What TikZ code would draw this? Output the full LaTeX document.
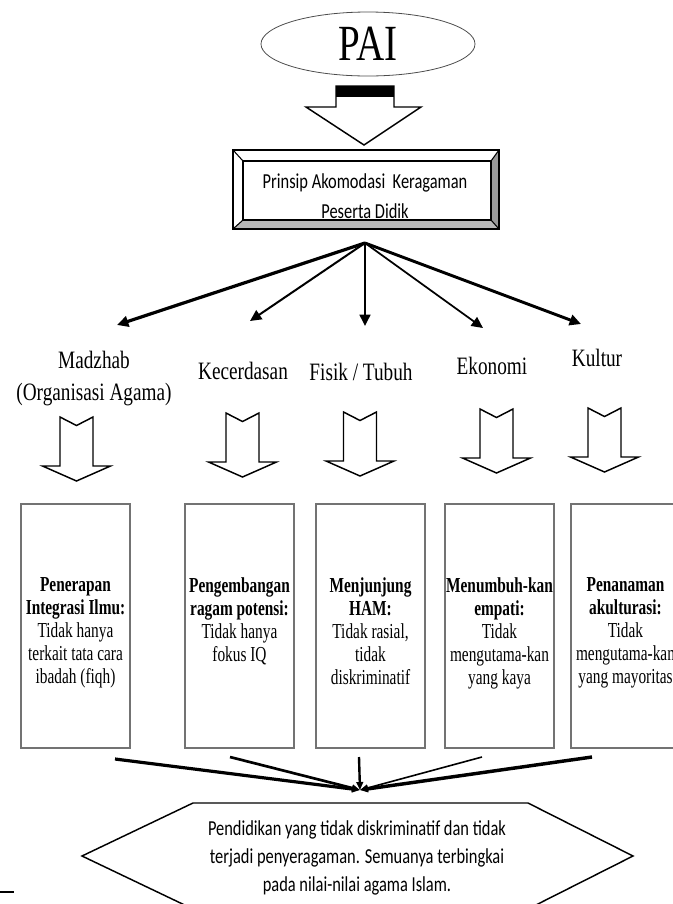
\documentclass[tikz,border=0pt]{standalone}
\usepackage{fontspec}
\setmainfont{Liberation Serif}[FakeStretch=0.77]
\newfontfamily\narrowserif{Liberation Serif}[FakeStretch=0.72]
\newfontfamily\calibri{Carlito}[FakeStretch=0.77]
\usetikzlibrary{arrows.meta,shapes.geometric}

\tikzset{
  fanarrow/.style={-{Triangle[length=8.5pt,width=8pt]}},
  meetarrow/.style={-{Triangle[length=6pt,width=5pt]}},
  catlabel/.style={inner sep=0pt,font=\fontsize{18.75}{24}\selectfont,align=center},
  catbox/.style={draw=black!55,line width=0.8pt,minimum width=81.75pt,minimum height=183pt,inner sep=0pt},
  boxtext/.style={inner sep=0pt,anchor=north,align=center,font=\narrowserif\fontsize{16}{17.25}\selectfont},
  hollowarrow/.pic={
    \draw[line width=1.1pt,fill=white] (-16.5,0) -- (0,-8.5) -- (16.5,0) -- (16.5,-49) -- (34,-49) -- (0,-64) -- (-34,-49) -- (-16.5,-49) -- cycle;
  }
}

\begin{document}
\begin{tikzpicture}[x=0.75pt,y=0.75pt,yscale=-1,xscale=1]
\useasboundingbox (0,0) rectangle (673,904);

%Ellipse
\node[draw=black!70,line width=0.6pt,ellipse,minimum width=160.5pt,minimum height=48pt,inner sep=0pt,font=\fontsize{38}{38}\selectfont] (pai) at (368,44) {PAI};

%Block arrow
\draw[line width=1.1pt,fill=white] (336,86) -- (394,86) -- (394,107) -- (421,107) -- (364,145) -- (306,107) -- (336,107) -- cycle;
\fill (336,86) rectangle (394,97);

%Bevel box
\fill[black!40] (499,150) -- (499,229) -- (491,220) -- (491,161) -- cycle;
\fill[black!28] (233,229) -- (499,229) -- (491,220) -- (243,220) -- cycle;
\draw[line width=1.1pt] (233,150) rectangle (499,229);
\draw[line width=1.1pt] (243,161) rectangle (491,220);
\draw[line width=0.8pt] (233,150) -- (243,161) (499,150) -- (491,161) (233,229) -- (243,220) (499,229) -- (491,220);
% Text Node
\node[inner sep=0pt,anchor=north,align=center,font=\calibri\fontsize{16}{22.5}\selectfont] (prinsip) at (365,173) {Prinsip Akomodasi~ Keragaman\\Peserta Didik};

%Fan arrows
\coordinate (fan) at (365,243);
\coordinate (tip1) at (117,325);
\coordinate (tip2) at (250,321);
\coordinate (tip3) at (365,326);
\coordinate (tip4) at (483,328);
\coordinate (tip5) at (581,324);
\draw[fanarrow,line width=2.4pt] (fan) -- (tip1);
\draw[fanarrow,line width=1.5pt] (fan) -- (tip2);
\draw[fanarrow,line width=1.8pt] (fan) -- (tip3);
\draw[fanarrow,line width=1.3pt] (fan) -- (tip4);
\draw[fanarrow,line width=2.2pt] (fan) -- (tip5);

% Text Node
\node[catlabel,anchor=north] (madzhab) at (94,351) {Madzhab\\(Organisasi Agama)};
% Text Node
\node[catlabel,anchor=base] (kecerdasan) at (243,379) {Kecerdasan};
% Text Node
\node[catlabel,anchor=base] (fisik) at (361,380) {Fisik / Tubuh};
% Text Node
\node[catlabel,anchor=base] (ekonomi) at (492,374) {Ekonomi};
% Text Node
\node[catlabel,anchor=base] (kultur) at (597,366) {Kultur};

%Hollow arrows
\pic at (76.5,417) {hollowarrow};
\pic at (242.5,413) {hollowarrow};
\pic at (360,412) {hollowarrow};
\pic at (496.5,409) {hollowarrow};
\pic at (604.5,408) {hollowarrow};

%Boxes
\node[catbox] (b1) at (75.5,626) {};
\node[catbox] (b2) at (239.5,626) {};
\node[catbox] (b3) at (370.5,626) {};
\node[catbox] (b4) at (499.5,626) {};
\node[catbox] (b5) at (625.5,626) {};

% Text Node
\node[boxtext] (t1) at (75.5,577) {\textbf{Penerapan}\\\textbf{Integrasi Ilmu:}\\Tidak hanya\\terkait tata cara\\ibadah (fiqh)};
% Text Node
\node[boxtext] (t2) at (239.5,577) {\textbf{Pengembangan}\\\textbf{ragam potensi:}\\Tidak hanya\\fokus IQ};
% Text Node
\node[boxtext] (t3) at (370.5,577) {\textbf{Menjunjung}\\\textbf{HAM:}\\Tidak rasial,\\tidak\\diskriminatif};
% Text Node
\node[boxtext] (t4) at (499.5,577) {\textbf{Menumbuh-kan}\\\textbf{empati:}\\Tidak\\mengutama-kan\\yang kaya};
% Text Node
\node[boxtext] (t5) at (625.5,577) {\textbf{Penanaman}\\\textbf{akulturasi:}\\Tidak\\mengutama-kan\\yang mayoritas};

%Converging arrows
\coordinate (meet) at (360,790);
\coordinate (s1) at (115,759);
\coordinate (s2) at (230,757);
\coordinate (s3) at (359,757);
\coordinate (s4) at (482,757);
\coordinate (s5) at (592,757);
\draw[meetarrow,line width=2.4pt] (s1) -- (meet);
\draw[meetarrow,line width=2pt] (s2) -- (meet);
\draw[meetarrow,line width=1.8pt] (s3) -- (meet);
\draw[meetarrow,line width=1.2pt] (s4) -- (meet);
\draw[meetarrow,line width=2.6pt] (s5) -- (meet);

%Hexagon
\draw[line width=1.1pt] (82,856) -- (193,803) -- (528,803) -- (633,856) -- (528,909) -- (193,909) -- cycle;
% Text Node
\node[inner sep=0pt,anchor=north,align=center,font=\calibri\fontsize{16}{21}\selectfont] (hasil) at (357,820) {Pendidikan yang tidak diskriminatif dan tidak\\terjadi penyeragaman. Semuanya terbingkai\\pada nilai-nilai agama Islam.};

%Straight Lines
\draw[line width=1.5pt] (0,892) -- (14,892);

\end{tikzpicture}
\end{document}
